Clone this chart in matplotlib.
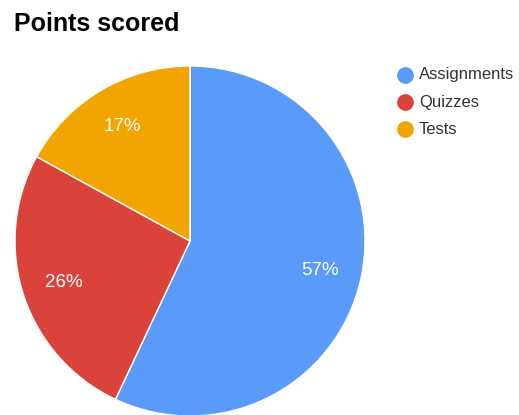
import matplotlib.pyplot as plt
from matplotlib.lines import Line2D

labels = ['Assignments', 'Quizzes', 'Tests']
values = [57, 26, 17]
colors = ['#5a9af8', '#d9433a', '#f2a500']

plt.rcParams['font.family'] = ['Liberation Sans', 'DejaVu Sans']

fig = plt.figure(figsize=(5.19, 4.15), dpi=100)
ax = fig.add_axes([15 / 519, -1 / 415, 350 / 519, 350 / 415])

wedges, texts, autotexts = ax.pie(
    values, colors=colors, startangle=90, counterclock=False,
    autopct='%1.0f%%', pctdistance=0.76,
    wedgeprops={'edgecolor': 'white', 'linewidth': 1},
    textprops={'color': 'white', 'fontsize': 13.5})
ax.set_xlim(-1, 1)
ax.set_ylim(-1, 1)
ax.set_aspect('equal')

fig.text(14 / 519, 1 - 24 / 415, 'Points scored', fontsize=18, fontweight='bold',
         va='center', ha='left', color='#000000')

for i, (lab, c) in enumerate(zip(labels, colors)):
    y = 1 - (75 + 27 * i) / 415
    fig.add_artist(Line2D([405 / 519], [y], marker='o', markersize=11,
                          color=c, transform=fig.transFigure))
    fig.text(419 / 519, y, lab, fontsize=12, va='center', ha='left', color='#333333')

fig.savefig('out.png', dpi=100)
